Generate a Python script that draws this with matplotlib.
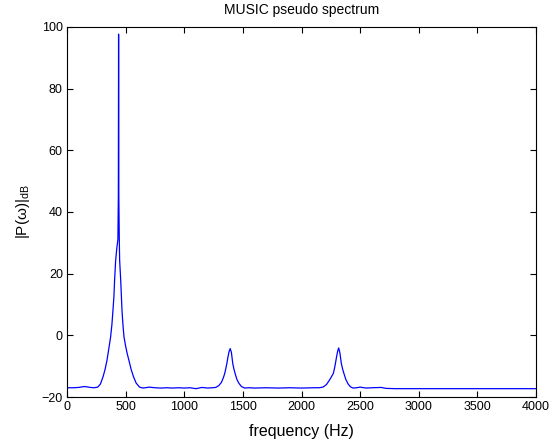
import matplotlib
matplotlib.use("Agg")
import matplotlib.pyplot as plt

# Frequency (Hz) and pseudo-spectrum (dB)
freq_hz = [0, 50, 100, 150, 200, 230, 262, 285, 307, 325, 341, 358, 372, 383,
           392, 400, 406, 415, 424, 434, 438, 440, 442, 446, 449, 458, 469,
           477, 486, 500, 514, 528, 548, 568, 590, 619, 650, 700, 750, 800,
           850, 900, 950, 1000, 1050, 1100, 1150, 1200, 1240, 1268, 1295, 1318,
           1333, 1345, 1355, 1363, 1372, 1382, 1392, 1402, 1414, 1424, 1434,
           1448, 1465, 1488, 1515, 1550, 1600, 1700, 1800, 1900, 2000, 2100,
           2150, 2183, 2212, 2237, 2256, 2271, 2281, 2289, 2298, 2308, 2317,
           2327, 2340, 2351, 2362, 2378, 2398, 2418, 2440, 2470, 2500, 2550,
           2600, 2680, 2720, 2800, 3000, 3500, 4000]
power_db = [-17.0, -17.0, -16.9, -16.6, -16.9, -17.0, -16.8, -15.8, -13.5, -11.0,
            -8.1, -4.0, -0.5, 3.5, 8.1, 12.5, 17.9, 24.3, 28.0, 31.0, 45.0,
            97.7, 45.0, 31.0, 24.3, 17.9, 8.1, 3.5, -0.5, -3.5, -6.0, -8.1,
            -11.2, -13.5, -15.5, -16.8, -17.1, -16.8, -17.0, -17.1, -17.0,
            -17.1, -17.0, -17.1, -17.0, -17.3, -16.9, -17.1, -17.0, -16.9,
            -16.3, -15.2, -13.8, -12.4, -10.7, -9.2, -7.2, -5.3, -4.3, -5.5,
            -9.2, -11.0, -12.4, -14.2, -15.5, -16.6, -17.1, -17.0, -17.1,
            -17.0, -17.1, -17.0, -17.1, -17.0, -17.0, -16.8, -16.0, -14.6,
            -13.4, -12.4, -10.8, -9.2, -7.2, -5.2, -4.1, -5.6, -9.2, -11.0,
            -12.4, -14.3, -15.8, -16.7, -17.1, -17.0, -16.8, -17.1, -17.0,
            -16.9, -17.2, -17.3, -17.3, -17.3, -17.3]

x_ticks = [0, 500, 1000, 1500, 2000, 2500, 3000, 3500, 4000]
y_ticks = [-20, 0, 20, 40, 60, 80, 100]

plt.rcParams['font.family'] = ['Liberation Sans', 'DejaVu Sans']
plt.rcParams['mathtext.fontset'] = 'custom'
plt.rcParams['mathtext.rm'] = 'Liberation Sans'

fig = plt.figure(figsize=(5.53, 4.40), dpi=100)
ax = fig.add_axes([67 / 553, 43 / 440, 469 / 553, 370 / 440])
ax.plot(freq_hz, power_db, color=(0, 0, 1), linewidth=0.9)

ax.set_xlim(0, 4000)
ax.set_ylim(-20, 100)
ax.set_xticks(x_ticks)
ax.set_yticks(y_ticks)
ax.tick_params(direction='in', length=4, width=0.8, top=True, right=True,
               labelsize=9, colors='black', pad=3)
for s in ax.spines.values():
    s.set_linewidth(0.8)
    s.set_color('black')

ax.set_title('MUSIC pseudo spectrum', fontsize=10, pad=9)
ax.set_xlabel('frequency (Hz)', fontsize=11.5, labelpad=8)
ax.set_ylabel('|P(ω)|$_{\\mathrm{dB}}$', fontsize=11, labelpad=7)

fig.savefig('out.png', dpi=100)
